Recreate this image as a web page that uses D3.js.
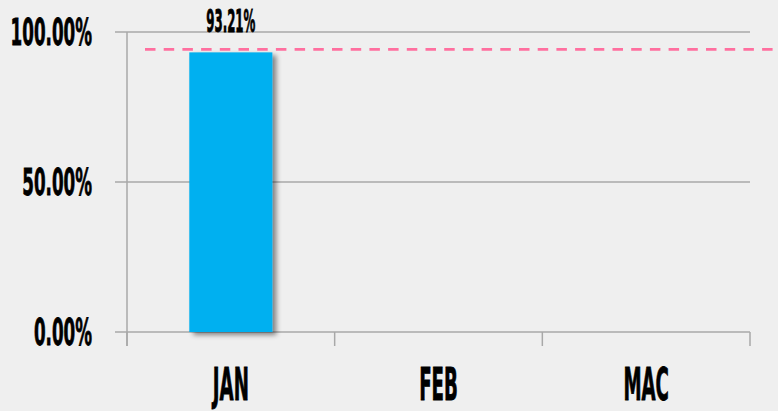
<!DOCTYPE html>
<html>
<head>
<meta charset="utf-8">
<script src="https://cdn.jsdelivr.net/npm/d3@7"></script>
<style>
  html, body { margin: 0; padding: 0; background: #efefef; }
  svg { display: block; }
  .lbl { font-family: "DejaVu Sans Condensed", sans-serif; font-weight: bold; fill: #000; stroke: #000; stroke-width: 0.8; }
</style>
</head>
<body>
<svg id="chart" width="778" height="411"></svg>
<script>
// Datos
const categories = ["JAN", "FEB", "MAC"];
const values = [93.21, null, null];
const targetValue = 94.2;
const yTicks = [0, 50, 100];

const W = 778, H = 411;
const mLeft = 127, mRight = 750, mTop = 32, mBottom = 332;

const svg = d3.select("#chart");

const x = d3.scaleBand()
  .domain(categories)
  .range([mLeft, mRight])
  .paddingInner(0.6)
  .paddingOuter(0.3);

const y = d3.scaleLinear().domain([0, 100]).range([mBottom, mTop]);

// Sombra de la barra
const defs = svg.append("defs");
const f = defs.append("filter").attr("id", "shadow")
  .attr("x", "-20%").attr("y", "-10%").attr("width", "150%").attr("height", "130%");
f.append("feDropShadow")
  .attr("dx", 4).attr("dy", 3).attr("stdDeviation", 2.5)
  .attr("flood-color", "#000").attr("flood-opacity", 0.45);

// Líneas de cuadrícula
svg.append("g").selectAll("line")
  .data(yTicks)
  .enter().append("line")
  .attr("x1", mLeft - 12).attr("x2", mRight)
  .attr("y1", d => y(d)).attr("y2", d => y(d))
  .attr("stroke", "#a8a8a8").attr("stroke-width", 1.5);

// Eje Y
svg.append("line")
  .attr("x1", mLeft).attr("x2", mLeft)
  .attr("y1", mTop).attr("y2", mBottom + 14)
  .attr("stroke", "#a8a8a8").attr("stroke-width", 1.5);

// Marcas del eje X en los límites de categoría
const step = x.step();
const bounds = d3.range(categories.length + 1).map(i => mLeft + i * step);
svg.append("g").selectAll("line")
  .data(bounds)
  .enter().append("line")
  .attr("x1", d => d).attr("x2", d => d)
  .attr("y1", mBottom).attr("y2", mBottom + 14)
  .attr("stroke", "#a8a8a8").attr("stroke-width", 1.5);

// Barras
const barData = categories.map((c, i) => ({ cat: c, v: values[i] })).filter(d => d.v != null);
svg.append("g").selectAll("rect")
  .data(barData)
  .enter().append("rect")
  .attr("x", d => x(d.cat))
  .attr("y", d => y(d.v))
  .attr("width", x.bandwidth())
  .attr("height", d => y(0) - y(d.v))
  .attr("fill", "#00b0f0")
  .attr("filter", "url(#shadow)");

// Línea objetivo
svg.append("line")
  .attr("x1", 145).attr("x2", W)
  .attr("y1", y(targetValue)).attr("y2", y(targetValue))
  .attr("stroke", "#ff6f9f").attr("stroke-width", 2.6)
  .attr("stroke-dasharray", "10.5,8.2");

// Etiquetas del eje Y
const yl = svg.append("g").selectAll("g")
  .data(yTicks)
  .enter().append("g")
  .attr("transform", d => `translate(92,${y(d) + 13}) scale(0.49,1)`);
yl.append("text")
  .attr("class", "lbl")
  .attr("text-anchor", "end")
  .attr("font-size", 38)
  .text(d => d.toFixed(2) + "%");

// Etiquetas del eje X
const xl = svg.append("g").selectAll("g")
  .data(categories)
  .enter().append("g")
  .attr("transform", d => `translate(${x(d) + x.bandwidth() / 2},400) scale(0.46,1)`);
xl.append("text")
  .attr("class", "lbl")
  .attr("text-anchor", "middle")
  .attr("font-size", 44)
  .text(d => d);

// Etiqueta de valor
const vl = svg.append("g").selectAll("g")
  .data(barData)
  .enter().append("g")
  .attr("transform", d => `translate(${x(d.cat) + x.bandwidth() / 2},${y(d.v) - 20}) scale(0.41,1)`);
vl.append("text")
  .attr("class", "lbl")
  .attr("text-anchor", "middle")
  .attr("font-size", 32)
  .text(d => d.v.toFixed(2) + "%");
</script>
</body>
</html>
